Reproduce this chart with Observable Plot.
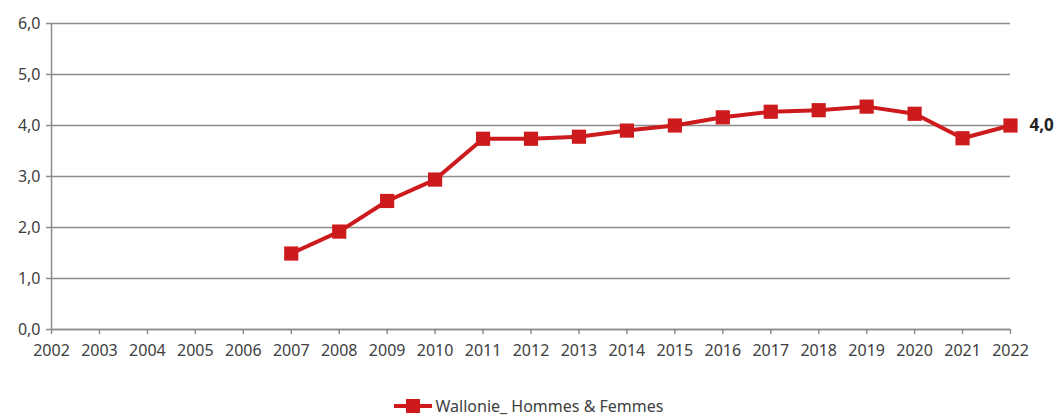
<!DOCTYPE html>
<html><head><meta charset="utf-8">
<script src="https://cdn.jsdelivr.net/npm/d3@7"></script>
<script src="https://cdn.jsdelivr.net/npm/@observablehq/plot@0.6"></script>
<style>
html,body{margin:0;padding:0;background:#fff;overflow:hidden;width:1056px;height:418px;}
#legend{position:absolute;left:0;top:396px;width:1056px;height:20px;line-height:20px;text-align:center;font-family:"Noto Sans",sans-serif;font-size:16px;color:#404040;white-space:nowrap;}
#legend svg{vertical-align:middle;margin-right:3px;margin-top:-3px;}
</style></head><body>
<div id="chart"></div>
<div id="legend"></div>
<script>
const years = [2002,2003,2004,2005,2006,2007,2008,2009,2010,2011,2012,2013,2014,2015,2016,2017,2018,2019,2020,2021,2022];
const dataYears = [2007,2008,2009,2010,2011,2012,2013,2014,2015,2016,2017,2018,2019,2020,2021,2022];
const values = [1.49,1.92,2.52,2.94,3.74,3.74,3.78,3.90,4.00,4.16,4.27,4.30,4.37,4.23,3.75,4.00];
const yTicks = [0,1,2,3,4,5,6];
const seriesName = "Wallonie_ Hommes & Femmes";
const red = "#cc1a1d";
const grey = "#8c8c8c";

const data = dataYears.map((y,i)=>({year:y, value:values[i]}));
const last = data[data.length-1];
const fmt = v => v.toFixed(1).replace(".", ",");

const chart = Plot.plot({
  width: 1056,
  height: 372,
  marginLeft: 51,
  marginRight: 46,
  marginTop: 23,
  marginBottom: 43,
  style: {fontFamily: "'Noto Sans', sans-serif", fontSize: "16px", color: "#404040", background: "#fff"},
  x: {domain: [2002, 2022], ticks: years, tickFormat: d => String(d), label: null},
  y: {domain: [0, 6], ticks: yTicks, tickFormat: fmt, label: null},
  marks: [
    Plot.gridY(yTicks, {stroke: grey, strokeOpacity: 1, strokeWidth: 1.5}),
    Plot.ruleX([2002], {stroke: grey, strokeWidth: 1.5}),
    Plot.ruleY([0], {stroke: grey, strokeWidth: 1.5}),
    Plot.axisY(yTicks, {tickSize: 5, tickPadding: 6, stroke: grey, strokeWidth: 1.5, tickFormat: fmt, fill: "#404040", fontSize: 16, label: null}),
    Plot.axisX(years, {tickSize: 5, tickPadding: 10, stroke: grey, strokeWidth: 1.5, tickFormat: d => String(d), fill: "#404040", fontSize: 16, label: null}),
    Plot.line(data, {x: "year", y: "value", stroke: red, strokeWidth: 4}),
    Plot.dot(data, {x: "year", y: "value", symbol: "square", r: 8, fill: red, stroke: "none"}),
    Plot.text([last], {x: "year", y: "value", text: d => fmt(d.value), dx: 19, textAnchor: "start", fontWeight: "bold", fontSize: 17, fill: "#222"})
  ]
});
document.getElementById("chart").appendChild(chart);

document.getElementById("legend").innerHTML =
  `<svg width="40" height="16" viewBox="0 0 40 16"><line x1="1" y1="8" x2="39" y2="8" stroke="${red}" stroke-width="4"/><rect x="13" y="1" width="14" height="14" fill="${red}"/></svg>${seriesName}`;
</script>
</body></html>
